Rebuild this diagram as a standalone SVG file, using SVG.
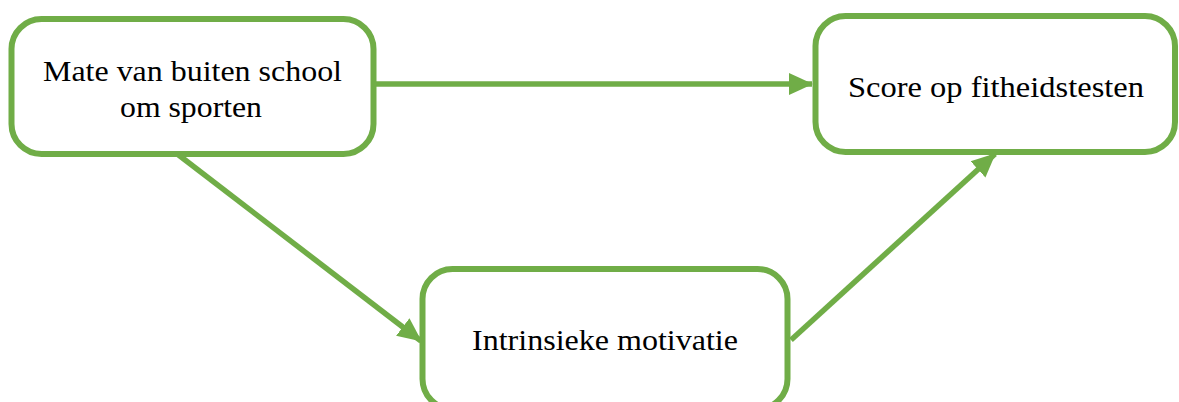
<svg xmlns="http://www.w3.org/2000/svg" width="1179" height="402" viewBox="0 0 1179 402">
<defs>
<style>
.box{fill:#fff;stroke:#70AD47;stroke-width:6}
.lbl{font-family:"Liberation Serif","Times New Roman",serif;font-size:30px;fill:#000;text-anchor:middle}
.conn{stroke:#70AD47;stroke-width:5.5;fill:none}
</style>
<marker id="ah" markerUnits="userSpaceOnUse" markerWidth="24" markerHeight="24" viewBox="0 0 24 24" refX="23" refY="12" orient="auto">
<path d="M0,1 L24,12 L0,23 Z" fill="#70AD47"/>
</marker>
</defs>
<g id="connectors">
<line class="conn" x1="376" y1="84" x2="812" y2="84" marker-end="url(#ah)"/>
<line class="conn" x1="176" y1="153" x2="421" y2="341" marker-end="url(#ah)"/>
<line class="conn" x1="791" y1="340" x2="995" y2="154" marker-end="url(#ah)"/>
</g>
<g id="node-mate">
<rect class="box" x="11.5" y="19" width="362" height="135" rx="30"/>
<text class="lbl" x="192.5" y="81" textLength="299" lengthAdjust="spacingAndGlyphs">Mate van buiten school</text>
<text class="lbl" x="191" y="117" textLength="142" lengthAdjust="spacingAndGlyphs">om sporten</text>
</g>
<g id="node-score">
<rect class="box" x="815.5" y="16" width="359.5" height="136" rx="30"/>
<text class="lbl" x="996" y="97" textLength="296" lengthAdjust="spacingAndGlyphs">Score op fitheidstesten</text>
</g>
<g id="node-motivatie">
<rect class="box" x="422.5" y="269" width="365" height="140" rx="30"/>
<text class="lbl" x="605" y="350" textLength="266" lengthAdjust="spacingAndGlyphs">Intrinsieke motivatie</text>
</g>
</svg>
